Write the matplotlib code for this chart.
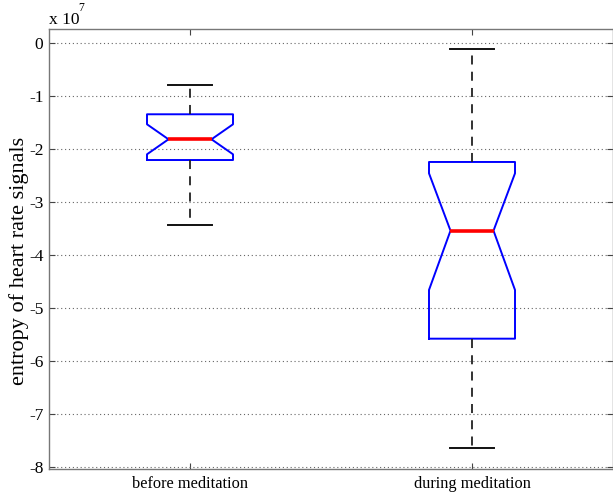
import matplotlib
matplotlib.use("Agg")
import matplotlib.pyplot as plt

plt.rcParams['font.family'] = ['Liberation Serif', 'DejaVu Serif']
plt.rcParams['axes.unicode_minus'] = False

categories = ["before meditation", "during meditation"]
scale = 1e7
medians = [-1.817e7, -3.541e7]
q1s = [-2.208e7, -5.579e7]
q3s = [-1.345e7, -2.245e7]
notch_lo = [-2.100e7, -4.660e7]
notch_hi = [-1.534e7, -2.459e7]
whisker_lo = [-3.434e7, -7.636e7]
whisker_hi = [-0.787e7, -0.113e7]
yticks = [0, -1, -2, -3, -4, -5, -6, -7, -8]

stats = []
for i, name in enumerate(categories):
    stats.append(dict(label=name,
                      med=medians[i] / scale, q1=q1s[i] / scale, q3=q3s[i] / scale,
                      cilo=notch_lo[i] / scale, cihi=notch_hi[i] / scale,
                      whislo=whisker_lo[i] / scale, whishi=whisker_hi[i] / scale,
                      fliers=[]))

fig = plt.figure(figsize=(6.13, 4.95), dpi=100)
ax = fig.add_axes([49 / 613, 1 - 469 / 495, 1 - 49 / 613, (469 - 29) / 495])

ax.bxp(stats, positions=[1, 2], widths=0.305, shownotches=True, showfliers=False,
       boxprops=dict(color='#0000ff', linewidth=1.4),
       medianprops=dict(color='#ff0000', linewidth=2.6),
       whiskerprops=dict(color='#222222', linewidth=1.3, linestyle=(0, (5, 4))),
       capprops=dict(color='#111111', linewidth=1.4))

ax.set_xlim(0.5, 2.5)
ax.set_ylim(-8.038, 0.264)
ax.set_yticks(yticks)
ax.set_yticklabels([str(t) for t in yticks], fontsize=12.5)
ax.tick_params(axis='x', labelsize=11.8, pad=5)
ax.yaxis.grid(True, linestyle=(0, (1, 2.5)), color='#666666', linewidth=0.8)
ax.set_axisbelow(True)
ax.tick_params(direction='in', top=True, right=True, length=4, color='#444444')
ax.tick_params(axis='y', pad=4)
for s in ax.spines.values():
    s.set_color('#777777')
    s.set_linewidth(1.0)

fig.text(19.5 / 613, 1 - 261 / 495, "entropy of heart rate signals", fontsize=16,
         rotation=90, ha='center', va='center')

fig.text(49 / 613, 1 - 24 / 495, "x 10", fontsize=12.5, ha='left', va='baseline')
fig.text(78.5 / 613, 1 - 11 / 495, "7", fontsize=8.5, ha='left', va='baseline')

fig.savefig("out.png", dpi=100)
